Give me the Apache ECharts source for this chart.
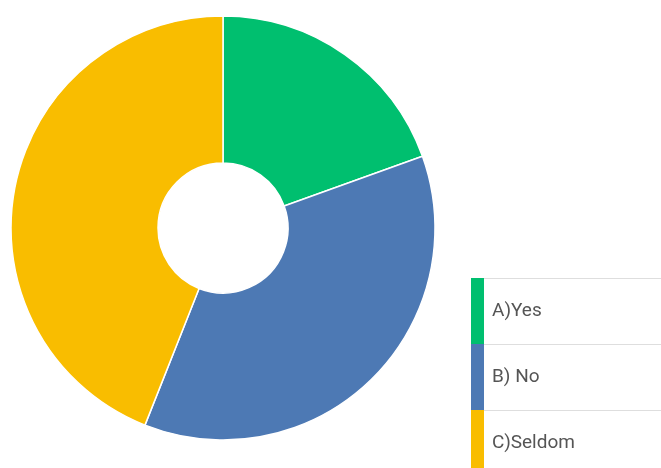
<!DOCTYPE html>
<html>
<head>
<meta charset="utf-8">
<style>
  html, body { margin: 0; padding: 0; background: #fff; }
  #chart { width: 661px; height: 468px; }
</style>
<script src="https://cdn.jsdelivr.net/npm/echarts@6/dist/echarts.min.js"></script>
</head>
<body>
<div id="chart"></div>
<script>
// Survey answers (share of respondents, %)
const categories = ['A)Yes', 'B) No', 'C)Seldom'];
const values = [19.5, 36.5, 44];
const colors = ['#00bf6f', '#4d79b4', '#f9bd00'];

const chart = echarts.init(document.getElementById('chart'));

const legendTop = 278;
const rowH = 66;
const barLeft = 471;
const barW = 13;

// thin grey rules above each legend row
const rules = categories.map((c, i) => ({
  type: 'line',
  shape: { x1: barLeft + barW, y1: legendTop + i * rowH + 0.5, x2: 661, y2: legendTop + i * rowH + 0.5 },
  style: { stroke: '#dedede', lineWidth: 1 },
  silent: true
}));

chart.setOption({
  animation: false,
  color: colors,
  legend: {
    orient: 'vertical',
    left: barLeft,
    top: legendTop,
    height: 400,
    icon: 'rect',
    itemWidth: barW,
    itemHeight: rowH,
    itemGap: 0,
    padding: 0,
    selectedMode: false,
    itemStyle: { borderWidth: 0 },
    data: categories,
    textStyle: {
      fontFamily: 'Roboto',
      fontSize: 19,
      color: '#555',
      padding: [0, 0, 0, 3]
    }
  },
  graphic: rules,
  series: [{
    type: 'pie',
    center: [223, 228],
    radius: [65, 212],
    startAngle: 90,
    clockwise: true,
    label: { show: false },
    labelLine: { show: false },
    itemStyle: { borderColor: '#fff', borderWidth: 1.5 },
    emphasis: { disabled: true },
    data: categories.map((name, i) => ({ name, value: values[i] }))
  }]
});
</script>
</body>
</html>
